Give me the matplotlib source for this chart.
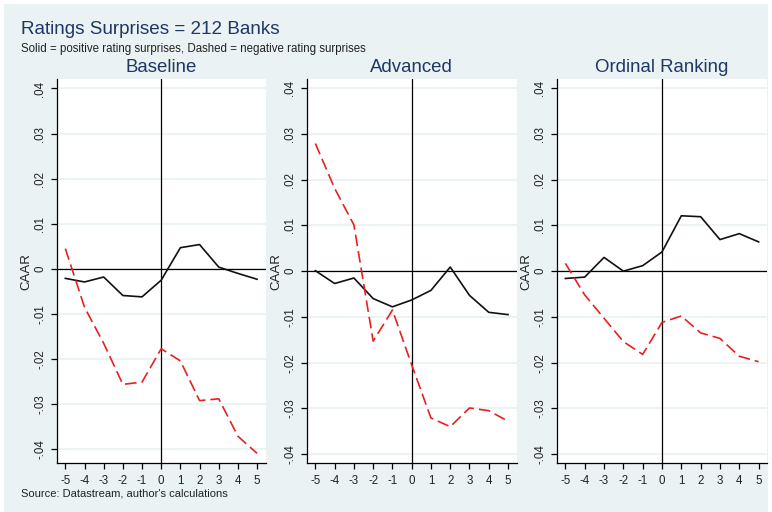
import matplotlib.pyplot as plt
from matplotlib.patches import Rectangle

plt.rcParams['font.family'] = ['Liberation Sans', 'DejaVu Sans']

# event window (days around the rating announcement)
days = [-5, -4, -3, -2, -1, 0, 1, 2, 3, 4, 5]

panels = ["Baseline", "Advanced", "Ordinal Ranking"]

# CAAR for positive surprises (solid) and negative surprises (dashed)
pos_baseline = [-0.0021, -0.0029, -0.0018, -0.0059, -0.0062, -0.0025, 0.0047, 0.0054, 0.0004, -0.0010, -0.0023]
neg_baseline = [0.0045, -0.0085, -0.0165, -0.0256, -0.0251, -0.0177, -0.0204, -0.0292, -0.0288, -0.0371, -0.0409]

pos_advanced = [0.0001, -0.0027, -0.0015, -0.0060, -0.0078, -0.0063, -0.0042, 0.0009, -0.0053, -0.0090, -0.0095]
neg_advanced = [0.0279, 0.0181, 0.0101, -0.0153, -0.0085, -0.0205, -0.0321, -0.0340, -0.0299, -0.0305, -0.0328]

pos_ordinal = [-0.0016, -0.0013, 0.0030, 0.0000, 0.0012, 0.0042, 0.0121, 0.0119, 0.0069, 0.0082, 0.0064]
neg_ordinal = [0.0017, -0.0052, -0.0103, -0.0154, -0.0182, -0.0112, -0.0098, -0.0135, -0.0147, -0.0186, -0.0198]

yticks = [-0.04, -0.03, -0.02, -0.01, 0, 0.01, 0.02, 0.03, 0.04]
ytick_labels = ["-.04", "-.03", "-.02", "-.01", "0", ".01", ".02", ".03", ".04"]

BG = "#EAF2F3"
NAVY = "#1E3766"

W, H = 772, 512
fig = plt.figure(figsize=(W / 100, H / 100), dpi=100)
fig.patch.set_facecolor("white")
fig.patches.append(Rectangle((4 / W, 0), 764 / W, 508 / H, transform=fig.transFigure,
                             facecolor=BG, edgecolor="none", zorder=-10))

fig.text(21 / W, 1 - 33.5 / H, "Ratings Surprises = 212 Banks", fontsize=13.6,
         color=NAVY, ha="left", va="baseline")
fig.text(21 / W, 1 - 52 / H, "Solid = positive rating surprises, Dashed = negative rating surprises",
         fontsize=8.3, color="#222222", ha="left", va="baseline")
fig.text(21 / W, 1 - 496.5 / H, "Source: Datastream, author's calculations",
         fontsize=8, color="#222222", ha="left", va="baseline")

series = [(pos_baseline, neg_baseline), (pos_advanced, neg_advanced), (pos_ordinal, neg_ordinal)]
lefts = [56.7, 306.7, 556.7]
widths = [209, 210, 210.6]
ylims = [(-0.0431, 0.0421), (-0.042, 0.042), (-0.042, 0.042)]
top, bottom = 79, 463.3

for i, name in enumerate(panels):
    ax = fig.add_axes([lefts[i] / W, 1 - bottom / H, widths[i] / W, (bottom - top) / H])
    ax.set_facecolor("white")
    pos, neg = series[i]

    for yv in yticks:
        ax.axhline(yv, color=BG, lw=1.3, zorder=1)
    ax.axhline(0, color="black", lw=0.9, zorder=2)
    ax.axvline(0, color="black", lw=0.9, zorder=2)

    ax.plot(days, pos, color="#111111", lw=1.2, zorder=3)
    ax.plot(days, neg, color="#E8201F", lw=1.2, dashes=(7, 3), zorder=4)

    ax.set_xlim(-5.45, 5.45)
    ax.set_ylim(*ylims[i])
    ax.set_xticks(days)
    ax.set_xticklabels([str(d) for d in days])
    ax.set_yticks(yticks)
    ax.set_yticklabels(ytick_labels, rotation=90, va="center")
    ax.tick_params(axis="both", direction="out", length=4.5, width=0.9,
                   labelsize=8.3, labelcolor="#222222", color="black")
    ax.tick_params(axis="x", pad=4)
    ax.tick_params(axis="y", pad=3)

    for s in ["top", "right"]:
        ax.spines[s].set_visible(False)
    for s in ["left", "bottom"]:
        ax.spines[s].set_linewidth(0.9)
        ax.spines[s].set_color("black")

    ax.set_ylabel("CAAR", fontsize=9.5, color="#222222", labelpad=1.5)
    ax.set_title(name, fontsize=13.4, color=NAVY, pad=5)

fig.savefig("out.png", dpi=100, facecolor=fig.get_facecolor())
